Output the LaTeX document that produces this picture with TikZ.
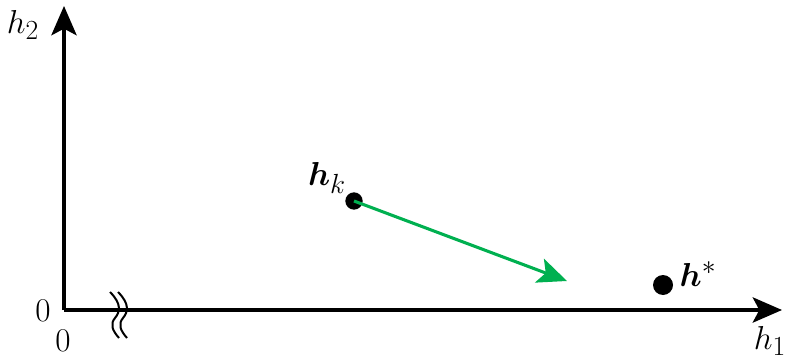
\documentclass[tikz,border=0pt]{standalone}
\usepackage{amsmath}
\usetikzlibrary{arrows.meta}
\definecolor{arrowgreen}{RGB}{0,176,80}
\tikzset{
  axis/.style={line width=2.3pt,-{Stealth[length=22pt,width=19pt,inset=5pt]}},
  dot/.style={circle,fill=black,inner sep=0pt,minimum size=#1},
  lbl/.style={font=\Huge,inner sep=0pt},
  move/.style={line width=2.3pt,draw=arrowgreen,-{Stealth[length=22pt,width=19pt,inset=5pt]}},
  brk/.style={line width=1.5pt},
}
\begin{document}
\begin{tikzpicture}[x=0.75pt,y=-0.75pt]
\useasboundingbox (0,0) rectangle (792,356);
\coordinate (O) at (64,310);
\coordinate (Ytop) at (64,6);
\coordinate (Xend) at (782,310);
\draw[axis] (O) -- (Ytop);
\draw[axis] (O) -- (Xend);
% axis break
\draw[brk] (110,292) .. controls (122,304) and (120,312) .. (115,318) .. controls (110,324) and (112,330) .. (119,338);
\draw[brk] (118,292) .. controls (130,304) and (128,312) .. (123,318) .. controls (118,324) and (120,330) .. (127,338);
\node[lbl] (y0) at (43,311) {$0$};
\node[lbl] (x0) at (63,341) {$0$};
\node[lbl] (h2) at (23,25) {$h_2$};
\node[lbl] (h1) at (770,341) {$h_1$};
\node[dot=13pt] (hk) at (354,201) {};
\node[lbl] (hklab) at (327,178) {$\boldsymbol{h}_k$};
\coordinate (tip) at (567,281);
\draw[move] (hk.center) -- (tip);
\node[dot=15pt] (hs) at (663,285) {};
\node[lbl] (hslab) at (698,274) {$\boldsymbol{h}^{*}$};
\end{tikzpicture}
\end{document}
